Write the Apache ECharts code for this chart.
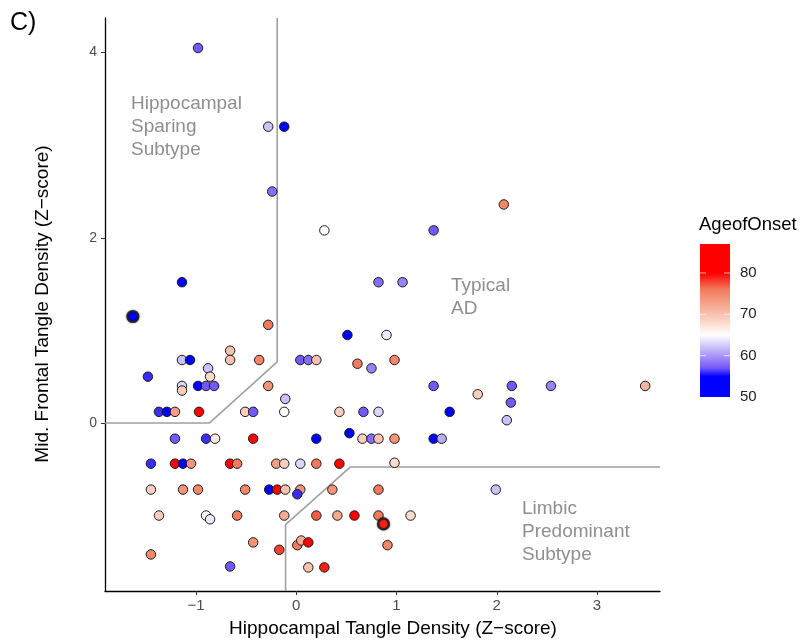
<!DOCTYPE html>
<html>
<head>
<meta charset="utf-8">
<script src="https://cdn.jsdelivr.net/npm/echarts@6/dist/echarts.min.js"></script>
<style>
  html, body { margin: 0; padding: 0; background: #fff; }
  #main { width: 806px; height: 643px; }
</style>
</head>
<body>
<div id="main"></div>
<script>
// hippocampal / mid-frontal z-scores and age of onset, one entry per case
const xs = [
  -0.98, -0.28, -0.12, -0.24, 0.28, 2.07, 1.37, -1.14, 0.82, 1.06,
  -0.28, 0.51, 0.90, -0.66, -1.14, -1.06, -0.66, -0.37, 0.04, 0.12,
  0.20, 0.61, 0.98, 0.75, -0.88, -1.48, -0.86, -1.14, -1.14, -0.98,
  -0.90, -0.82, -0.28, 1.37, 2.15, 2.54, 3.48, 1.81, -0.11, 2.14,
  -1.37, -1.29, -1.21, -0.97, -0.51, -0.43, -0.12, 0.43, 0.67, 0.82,
  1.53, 2.10,
  -1.21, -0.90, -0.81, -0.43, 0.20, 0.53, 0.66, 0.75, 0.82, 0.98,
  1.37, 1.45,
  -1.45, -1.21, -1.13, -1.05, -0.66, -0.59, -0.20, -0.12, 0.04, 0.20,
  0.43, 0.98,
  -1.45, -1.13, -0.98, -0.51, -0.27, -0.19, -0.11, 0.04, 0.01, 0.36,
  0.82, 1.99,
  -1.37, -0.90, -0.86, -0.59, -0.12, 0.20, 0.41, 0.58, 0.82, 1.14,
  -0.43, -1.45, 0.01, 0.05, 0.12, -0.17, -0.66, 0.12, 0.28, 0.91
];
const ys = [
  4.05, 3.20, 3.20, 2.50, 2.08, 2.36, 2.08, 1.52, 1.52, 1.52,
  1.06, 0.95, 0.95, 0.78, 0.68, 0.68, 0.68, 0.68, 0.68, 0.68,
  0.68, 0.64, 0.68, 0.59, 0.59, 0.50, 0.50, 0.40, 0.35, 0.40,
  0.40, 0.40, 0.40, 0.40, 0.40, 0.40, 0.40, 0.31, 0.26, 0.22,
  0.12, 0.12, 0.12, 0.12, 0.12, 0.12, 0.12, 0.12, 0.12, 0.12,
  0.12, 0.03,
  -0.17, -0.17, -0.17, -0.17, -0.17, -0.11, -0.17, -0.17, -0.17, -0.17,
  -0.17, -0.17,
  -0.44, -0.44, -0.44, -0.44, -0.44, -0.44, -0.44, -0.44, -0.44, -0.44,
  -0.44, -0.43,
  -0.72, -0.72, -0.72, -0.72, -0.72, -0.72, -0.72, -0.72, -0.77, -0.72,
  -0.72, -0.72,
  -1.00, -1.00, -1.04, -1.00, -1.00, -1.00, -1.00, -1.00, -1.00, -1.00,
  -1.29, -1.42, -1.32, -1.27, -1.29, -1.37, -1.55, -1.56, -1.56, -1.32
];
const ages = [
  57, 62, 50, 58, 65, 75, 57, 50, 58, 59,
  76, 50, 64, 70, 62, 50, 70, 75, 57, 58,
  70, 76, 75, 59, 62, 56, 68, 63, 69, 51,
  57, 57, 74, 57, 57, 59, 71, 69, 62, 57,
  56, 50, 73, 80, 69, 57, 65, 69, 57, 63,
  50, 62,
  57, 56, 67, 86, 50, 50, 69, 58, 70, 74,
  50, 61,
  56, 80, 50, 74, 80, 76, 73, 69, 63, 76,
  83, 68,
  69, 74, 75, 75, 55, 83, 70, 74, 56, 74,
  76, 62,
  69, 65, 64, 76, 72, 77, 72, 84, 76, 68,
  74, 75, 76, 72, 80, 78, 57, 70, 79, 75
];
// two highlighted cases (drawn with a dark ring)
const haloX = [-1.63, 0.87];
const haloY = [1.15, -1.09];
const haloAge = [54, 79];

// subtype boundaries
const sparingX = [-1.908, -0.865, -0.19, -0.19];
const sparingY = [0, 0, 0.66, 4.374];
const limbicX = [-0.107, -0.107, 0.54, 3.628];
const limbicY = [-1.815, -1.098, -0.475, -0.475];

const xTicks = [-1, 0, 1, 2, 3];
const yTicks = [0, 2, 4];
const legendTicks = [50, 60, 70, 80];

// colour scale (blue - white - red)
const stopVals = [50, 55, 57, 59.5, 62, 65, 68.5, 72, 76, 80, 87];
const stopCols = ['#0000ff', '#0000ff', '#7458fb', '#a08cf8', '#cbc0fa', '#ffffff',
  '#fbd4c6', '#f7aa92', '#f27b5d', '#ff0000', '#ff0000'];
const ageMin = 50, ageMax = 87;

function hexRgb (h) {
  return [parseInt(h.substr(1, 2), 16), parseInt(h.substr(3, 2), 16), parseInt(h.substr(5, 2), 16)];
}
function colorAt (v) {
  for (let i = 1; i < stopVals.length; i++) {
    if (v <= stopVals[i]) {
      const t = (v - stopVals[i - 1]) / (stopVals[i] - stopVals[i - 1]);
      const a = hexRgb(stopCols[i - 1]), b = hexRgb(stopCols[i]);
      const c = a.map((x, k) => Math.round(x + (b[k] - x) * t));
      return 'rgb(' + c.join(',') + ')';
    }
  }
  return stopCols[stopCols.length - 1];
}
const rampColors = [];
for (let v = ageMin; v <= ageMax + 0.001; v += 0.5) rampColors.push(colorAt(v));

const font = '"Liberation Sans", Arial, Helvetica, sans-serif';
const textGrey = '#8f8f8f';

// legend bar geometry
const legX = 700, legW = 30, legTop = 244, legBottom = 397;
const legY = v => legBottom - (v - ageMin) / (ageMax - ageMin) * (legBottom - legTop);

let chart = echarts.init(document.getElementById('main'));

const graphics = [
  { type: 'text', left: 10, top: 11, style: { text: 'C)', font: '25px ' + font, fill: '#000' } },
  { type: 'text', x: 393, y: 629, style: { text: 'Hippocampal Tangle Density (Z\u2212score)', font: '19px ' + font, fill: '#000', align: 'center', verticalAlign: 'middle' } },
  { type: 'text', x: 43, y: 304, rotation: Math.PI / 2, style: { text: 'Mid. Frontal Tangle Density (Z\u2212score)', font: '19px ' + font, fill: '#000', align: 'center', verticalAlign: 'middle' } },
  { type: 'text', x: 699, y: 225, style: { text: 'AgeofOnset', font: '18.5px ' + font, fill: '#000', verticalAlign: 'middle' } },
  {
    type: 'rect',
    shape: { x: legX, y: legTop, width: legW, height: legBottom - legTop },
    style: {
      fill: new echarts.graphic.LinearGradient(0, 0, 0, 1,
        stopVals.map((v, i) => ({ offset: 1 - (v - ageMin) / (ageMax - ageMin), color: stopCols[i] })).reverse())
    }
  }
];
// subtype labels
const notes = [
  { x: 131, y: 104, lines: ['Hippocampal', 'Sparing', 'Subtype'] },
  { x: 451, y: 286, lines: ['Typical', 'AD'] },
  { x: 522, y: 509, lines: ['Limbic', 'Predominant', 'Subtype'] }
];
notes.forEach(n => {
  n.lines.forEach((t, i) => {
    graphics.push({ type: 'text', x: n.x, y: n.y + i * 23, style: { text: t, font: '19px ' + font, fill: textGrey, verticalAlign: 'middle' } });
  });
});
legendTicks.forEach(v => {
  graphics.push({ type: 'text', x: 740, y: legY(v), style: { text: String(v), font: '15px ' + font, fill: '#222', verticalAlign: 'middle' } });
  if (v > ageMin) {
    graphics.push({ type: 'line', shape: { x1: legX, y1: legY(v), x2: legX + 6, y2: legY(v) }, style: { stroke: 'rgba(255,255,255,0.7)', lineWidth: 1 } });
    graphics.push({ type: 'line', shape: { x1: legX + legW - 6, y1: legY(v), x2: legX + legW, y2: legY(v) }, style: { stroke: 'rgba(255,255,255,0.7)', lineWidth: 1 } });
  }
});

chart.setOption({
  animation: false,
  textStyle: { fontFamily: font },
  grid: { left: 105, right: 146, top: 18, bottom: 52, containLabel: false },
  xAxis: {
    type: 'value',
    min: -1.908,
    max: 3.628,
    splitLine: { show: false },
    axisLine: { show: true, onZero: false, lineStyle: { color: '#000', width: 1.3 } },
    axisTick: { show: true, length: 4, customValues: xTicks, lineStyle: { color: '#333' } },
    axisLabel: { customValues: xTicks, color: '#4d4d4d', fontSize: 15, margin: 7,
      formatter: v => String(v).replace('-', '\u2212') }
  },
  yAxis: {
    type: 'value',
    min: -1.815,
    max: 4.374,
    splitLine: { show: false },
    axisLine: { show: true, onZero: false, lineStyle: { color: '#000', width: 1.3 } },
    axisTick: { show: true, length: 4, customValues: yTicks, lineStyle: { color: '#333' } },
    axisLabel: { customValues: yTicks, color: '#4d4d4d', fontSize: 14, margin: 8 }
  },
  visualMap: {
    show: false,
    type: 'continuous',
    min: ageMin,
    max: ageMax,
    dimension: 2,
    seriesIndex: [2, 3],
    inRange: { color: rampColors }
  },
  graphic: graphics,
  series: [
    {
      type: 'line',
      data: sparingX.map((x, i) => [x, sparingY[i]]),
      symbol: 'none',
      silent: true,
      z: 1,
      lineStyle: { color: '#a0a0a0', width: 1.6 }
    },
    {
      type: 'line',
      data: limbicX.map((x, i) => [x, limbicY[i]]),
      symbol: 'none',
      silent: true,
      z: 1,
      lineStyle: { color: '#a0a0a0', width: 1.6 }
    },
    {
      type: 'scatter',
      data: xs.map((x, i) => [x, ys[i], ages[i]]),
      symbolSize: 9.5,
      z: 3,
      itemStyle: { borderColor: '#1a1a1a', borderWidth: 1, opacity: 1 }
    },
    {
      type: 'scatter',
      data: haloX.map((x, i) => [x, haloY[i], haloAge[i]]),
      symbolSize: 11,
      z: 4,
      itemStyle: { borderColor: 'rgba(30,30,30,0.85)', borderWidth: 2.2, opacity: 1, shadowBlur: 2, shadowColor: 'rgba(0,0,0,0.6)' }
    }
  ]
});
</script>
</body>
</html>
